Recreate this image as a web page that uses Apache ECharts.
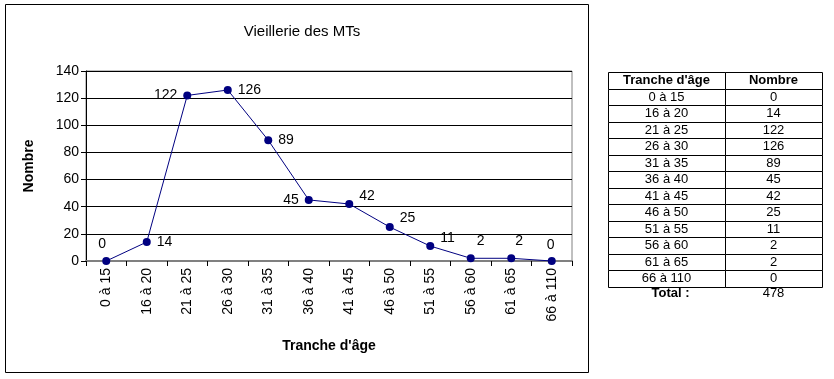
<!DOCTYPE html>
<html>
<head>
<meta charset="utf-8">
<script src="https://cdn.jsdelivr.net/npm/echarts@6/dist/echarts.min.js"></script>
<style>
html,body{margin:0;padding:0;background:#fff;}
#c{width:834px;height:379px;}
</style>
</head>
<body>
<div id="c"></div>
<script>
var titleText = "Vieillerie des MTs";
var categories = ["0 à 15","16 à 20","21 à 25","26 à 30","31 à 35","36 à 40","41 à 45","46 à 50","51 à 55","56 à 60","61 à 65","66 à 110"];
var values = [0,14,122,126,89,45,42,25,11,2,2,0];
var yTicks = {min:0, max:140, interval:20};
var xAxisName = "Tranche d'âge";
var yAxisName = "Nombre";
var tableHeaders = ["Tranche d'âge","Nombre"];
var totalLabel = "Total :";

// label placement (style only): [position, offsetX, offsetY]
var labelPlace = [
  ['top',-4,-2],['right',2,0],['left',-2,0],['right',2,0],['right',2,0],['left',-2,0],
  ['right',2,-8],['right',2,-9],['right',2,-8],['right',-2,-17],['right',-4,-17],['top',-1,-1]
];

var FONT = "'Liberation Sans', Arial, sans-serif";

var seriesData = values.map(function(v,i){
  var p = labelPlace[i];
  return {value:v, label:{position:p[0], offset:[p[1],p[2]]}};
});

// table graphics built from the data arrays
var tx0 = 608, tx1 = 725, tx2 = 822, ty0 = 72, rowH = 16.5;
var g = [];
function cell(x0,x1,y,txt,bold){
  g.push({type:'rect', shape:{x:Math.round(x0)+0.5, y:Math.round(y)+0.5, width:Math.round(x1-x0), height:Math.round(y+rowH)-Math.round(y)},
    style:{fill:'#fff', stroke:'#000', lineWidth:1}, z:1});
  g.push({type:'text', x:(x0+x1)/2, y:y+rowH/2+0.5, style:{text:txt, font:(bold?'bold ':'')+'13px '+FONT, fill:'#000', textAlign:'center', textVerticalAlign:'middle'}, z:2});
}
cell(tx0,tx1,ty0,tableHeaders[0],true);
cell(tx1,tx2,ty0,tableHeaders[1],true);
for (var i=0;i<categories.length;i++){
  var y = ty0 + rowH*(i+1);
  cell(tx0,tx1,y,categories[i],false);
  cell(tx1,tx2,y,String(values[i]),false);
}
var total = values.reduce(function(a,b){return a+b;},0);
var ty = ty0 + rowH*(categories.length+1);
g.push({type:'text', x:(tx0+tx1)/2+4, y:ty+7, style:{text:totalLabel, font:'bold 13px '+FONT, fill:'#000', textAlign:'center', textVerticalAlign:'middle'}});
g.push({type:'text', x:(tx1+tx2)/2, y:ty+7, style:{text:String(total), font:'13px '+FONT, fill:'#000', textAlign:'center', textVerticalAlign:'middle'}});
// chart frame
g.push({type:'rect', shape:{x:5.5,y:4.5,width:583,height:368}, style:{fill:'none', stroke:'#000', lineWidth:1}, z:0});

var chart = echarts.init(document.getElementById('c'), null, {renderer:'canvas'});
chart.setOption({
  backgroundColor:'#fff',
  animation:false,
  title:{text:titleText, left:297, top:19, textAlign:'center',
    textStyle:{fontFamily:FONT, fontSize:15, fontWeight:'normal', color:'#000'}},
  grid:{left:86, top:71, width:486, height:190, show:true, borderColor:'#808080', borderWidth:1, backgroundColor:'transparent'},
  xAxis:{type:'category', data:categories, boundaryGap:true,
    name:xAxisName, nameLocation:'middle', nameGap:78,
    nameTextStyle:{fontFamily:FONT, fontSize:14, fontWeight:'bold', color:'#000'},
    axisLine:{lineStyle:{color:'#808080', width:2}},
    axisTick:{show:true, length:5, lineStyle:{color:'#000'}, alignWithLabel:false},
    axisLabel:{rotate:90, margin:7, fontFamily:FONT, fontSize:14, color:'#000', interval:0},
    splitLine:{show:false}},
  yAxis:{type:'value', min:yTicks.min, max:yTicks.max, interval:yTicks.interval,
    name:yAxisName, nameLocation:'middle', nameGap:50,
    nameTextStyle:{fontFamily:FONT, fontSize:14, fontWeight:'bold', color:'#000'},
    axisLine:{show:true, lineStyle:{color:'#000'}},
    axisTick:{show:true, length:5, lineStyle:{color:'#000'}},
    axisLabel:{margin:7, fontFamily:FONT, fontSize:14, color:'#000'},
    splitLine:{show:true, lineStyle:{color:'#000', width:1}}},
  series:[{type:'line', data:seriesData, symbol:'circle', symbolSize:8,
    itemStyle:{color:'#000080'}, lineStyle:{color:'#000080', width:1},
    label:{show:true, fontFamily:FONT, fontSize:14, color:'#000', distance:4},
    z:5}],
  graphic:g
});
</script>
</body>
</html>
